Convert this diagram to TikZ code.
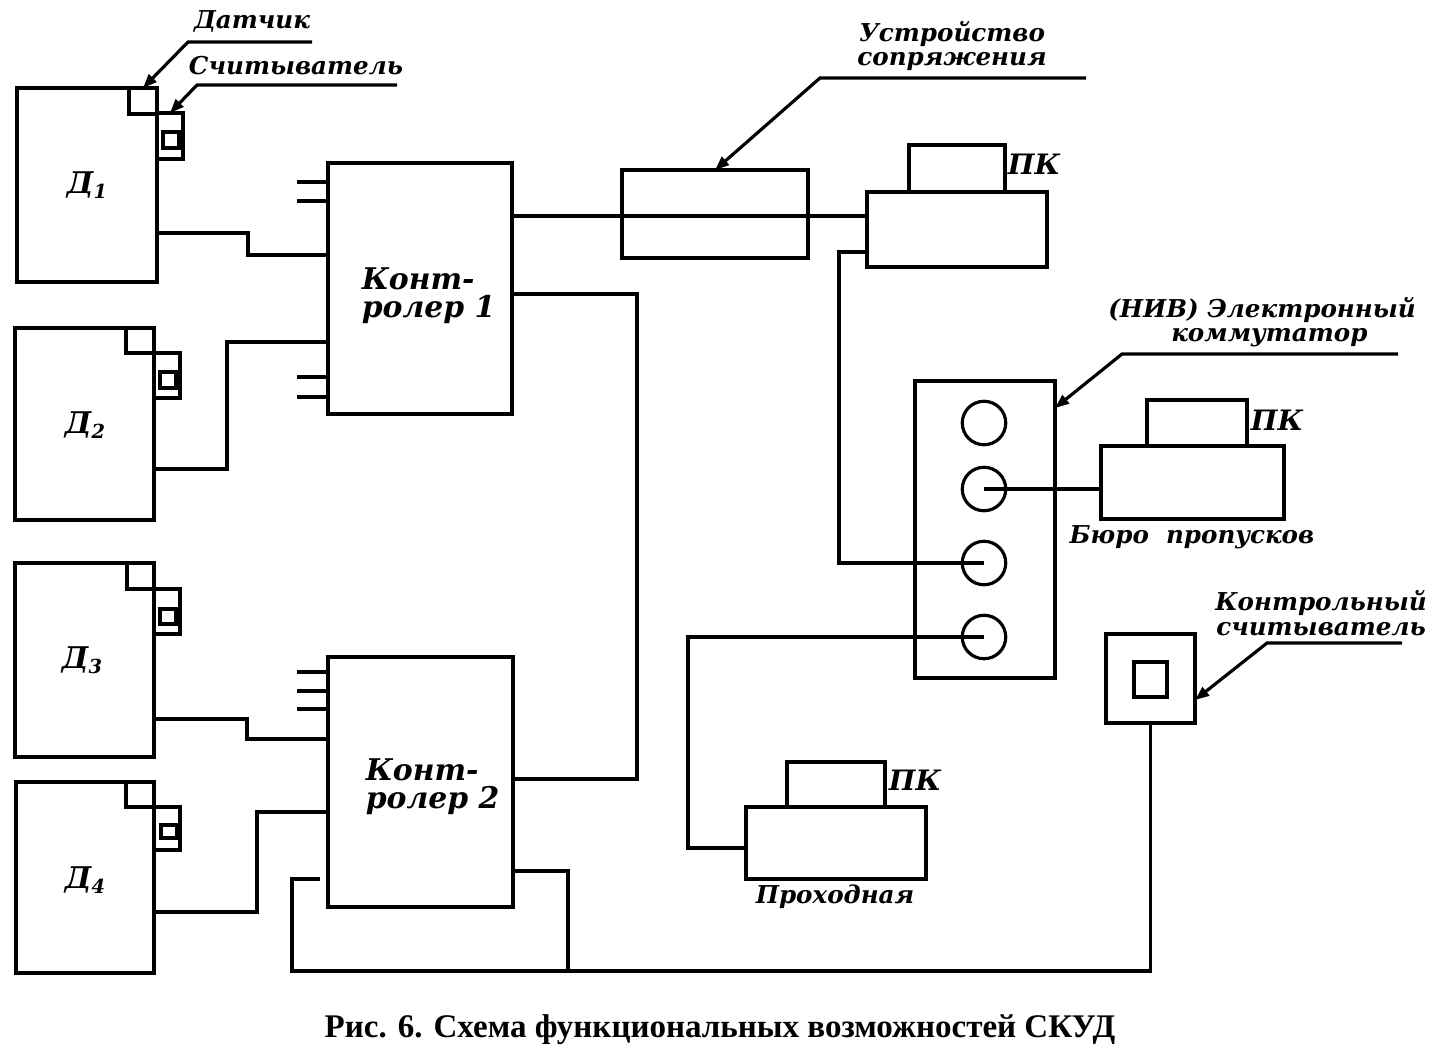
\documentclass[tikz,border=0pt]{standalone}
\usepackage{fontspec}
\setmainfont{DejaVu Serif}
\newfontfamily\capfont{Liberation Serif}
\usetikzlibrary{fit,arrows.meta}
\begin{document}
\begin{tikzpicture}[x=0.02cm,y=-0.02cm,
  line width=2pt,
  box/.style={draw,inner sep=0pt,outer sep=0pt},
  circ/.style={draw,circle,minimum size=0.87cm,inner sep=0pt,outer sep=0pt,line width=1.8pt},
  lbl/.style={font=\bfseries\itshape\fontsize{14}{16}\selectfont,inner sep=0pt,align=center},
  big/.style={font=\bfseries\itshape\fontsize{17}{16}\selectfont,inner sep=0pt,align=left},
  pk/.style={font=\bfseries\itshape\fontsize{16}{18}\selectfont,inner sep=0pt},
  dl/.style={font=\bfseries\itshape\fontsize{17}{18}\selectfont,inner sep=0pt},
  lead/.style={line width=1.8pt,-{Triangle[length=8pt,width=6pt]}},
  wire/.style={line width=2pt}
]
\useasboundingbox (0,0) rectangle (1439,1058);
\fill[white] (0,0) rectangle (1439,1058);

% doors with sensor and reader
\node[box,fit={(17,88)(157,282)}] (d1) {};
\node[box,fit={(129,88)(157,114)}] (s1) {};
\node[box,fit={(157,113)(183,159)}] (r1) {};
\node[box,fit={(163,132)(179,148)}] (ri1) {};
\node[dl] (t1) at (87,185) {Д\raisebox{-0.35ex}{\fontsize{11}{11}\selectfont 1}};

\node[box,fit={(15,328)(154,520)}] (d2) {};
\node[box,fit={(126,328)(154,353)}] (s2) {};
\node[box,fit={(154,353)(180,398)}] (r2) {};
\node[box,fit={(160,372)(176,388)}] (ri2) {};
\node[dl] (t2) at (85,425) {Д\raisebox{-0.35ex}{\fontsize{11}{11}\selectfont 2}};

\node[box,fit={(15,563)(154,757)}] (d3) {};
\node[box,fit={(127,563)(154,589)}] (s3) {};
\node[box,fit={(154,589)(180,634)}] (r3) {};
\node[box,fit={(160,609)(176,624)}] (ri3) {};
\node[dl] (t3) at (82,660) {Д\raisebox{-0.35ex}{\fontsize{11}{11}\selectfont 3}};

\node[box,fit={(16,782)(154,973)}] (d4) {};
\node[box,fit={(126,782)(154,807)}] (s4) {};
\node[box,fit={(154,807)(180,850)}] (r4) {};
\node[box,fit={(161,825)(177,838)}] (ri4) {};
\node[dl] (t4) at (85,880) {Д\raisebox{-0.35ex}{\fontsize{11}{11}\selectfont 4}};

% controllers
\node[box,fit={(328,163)(512,414)}] (k1) {};
\node[big,anchor=west] (k1t) at (360,296) {Конт-\\ролер 1};
\node[box,fit={(328,657)(513,907)}] (k2) {};
\node[big,anchor=west] (k2t) at (364,787) {Конт-\\ролер 2};

% stubs
\foreach \yy/\nm in {182/a,201/b,377/c,397/d}{
  \coordinate (st1\nm) at (297,\yy);
  \draw[wire] (st1\nm) -- (k1.west |- st1\nm);
}
\foreach \yy/\nm in {672/a,691/b,709/c}{
  \coordinate (st2\nm) at (297,\yy);
  \draw[wire] (st2\nm) -- (k2.west |- st2\nm);
}

% door wires
\draw[wire] (d1.east |- 0,233) -- (248,233) -- (248,255) -- (k1.west |- 0,255);
\draw[wire] (d2.east |- 0,469) -- (227,469) -- (227,342) -- (k1.west |- 0,342);
\draw[wire] (d3.east |- 0,719) -- (247,719) -- (247,739) -- (k2.west |- 0,739);
\draw[wire] (d4.east |- 0,912) -- (257,912) -- (257,812) -- (k2.west |- 0,812);

% interface device and PC
\node[box,fit={(622,170)(808,258)}] (ifc) {};
\node[box,fit={(867,192)(1047,267)}] (pc1b) {};
\node[box,fit={(909,145)(1005,192)}] (pc1t) {};
\node[pk] (pk1) at (1034,164) {ПК};
\draw[wire] (k1.east |- 0,216) -- (pc1b.west |- 0,216);

% commutator
\node[box,fit={(915,381)(1055,678)}] (kom) {};
\node[circ] (c1) at (984,423) {};
\node[circ] (c2) at (984,489) {};
\node[circ] (c3) at (984,563) {};
\node[circ] (c4) at (984,637) {};

% bureau PC
\node[box,fit={(1101,446)(1284,519)}] (pc2b) {};
\node[box,fit={(1147,400)(1247,446)}] (pc2t) {};
\node[pk] (pk2) at (1277,420) {ПК};
\node[lbl] (bur) at (1192,537) {Бюро\ \ пропусков};

% checkpoint PC
\node[box,fit={(746,807)(926,879)}] (pc3b) {};
\node[box,fit={(787,762)(885,807)}] (pc3t) {};
\node[pk] (pk3) at (915,780) {ПК};
\node[lbl] (pro) at (835,897) {Проходная};

% control reader
\node[box,fit={(1106,634)(1195,723)}] (cr) {};
\node[box,fit={(1134,662)(1167,697)}] (cri) {};

% wires
\draw[wire] (k1.east |- 0,294) -- (637,294) -- (637,779) -- (k2.east |- 0,779);
\draw[wire] (pc1b.west |- 0,252) -- (839,252) -- (839,563) -- (c3.center);
\draw[wire] (c2.center) -- (pc2b.west |- c2.center);
\draw[wire] (c4.center) -- (688,637) -- (688,848) -- (pc3b.west |- 0,848);
\coordinate (lgap) at (320,879);
\draw[wire] (lgap) -- (292,879) -- (292,971) -- (cr.south |- 0,971) -- (cr.south);
\draw[wire] (k2.east |- 0,871) -- (568,871) -- (568,971);

% leaders and labels
\node[lbl] (ldat) at (252,21) {Датчик};
\coordinate (ldate) at (312,42);
\draw[lead] (ldate) -- (188,42) -- (s1.north);
\node[lbl] (lrd) at (296,66) {Считыватель};
\coordinate (lrde) at (397,85);
\draw[lead] (lrde) -- (197,85) -- (r1.north);
\node[lbl] (lifc) at (952,46) {Устройство\\[-2pt]сопряжения};
\coordinate (lifce) at (1086,78);
\draw[lead] (lifce) -- (820,78) -- (ifc.north);
\node[lbl] (lkom) at (1262,322) {(НИВ)\ Электронный\\[-2pt]\hspace*{0.6em}коммутатор};
\coordinate (lkome) at (1398,354);
\draw[lead] (lkome) -- (1122,354) -- (kom.north east |- 0,408);
\node[lbl] (lcr) at (1321,613) {Контрольный\\[-2pt]считыватель};
\coordinate (lcre) at (1402,643);
\draw[lead] (lcre) -- (1267,643) -- (cr.east |- 0,700);

% caption
\node[font=\capfont\bfseries\fontsize{18.8}{22}\selectfont,inner sep=0pt] (cap) at (720,1030) {Рис. 6. Схема функциональных возможностей СКУД};
\end{tikzpicture}
\end{document}
